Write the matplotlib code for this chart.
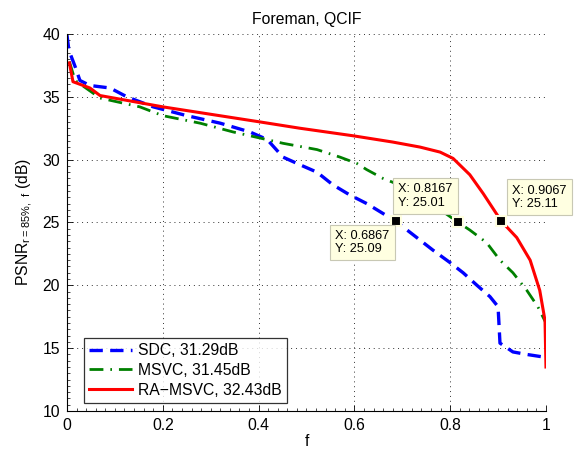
import matplotlib
matplotlib.use("Agg")
import matplotlib.pyplot as plt
from matplotlib.ticker import MultipleLocator, FuncFormatter

sdc_f = [0.0, 0.004, 0.017, 0.027, 0.048, 0.09, 0.125, 0.18, 0.25, 0.32, 0.382, 0.418,
         0.451, 0.486, 0.522, 0.555, 0.59, 0.626, 0.6867, 0.71, 0.764, 0.80, 0.827,
         0.856, 0.883, 0.90, 0.904, 0.931, 0.96, 0.994]
sdc_y = [39.9, 38.7, 37.4, 36.3, 35.9, 35.7, 35.0, 34.2, 33.5, 32.9, 32.2, 31.6,
         30.2, 29.6, 29.0, 28.0, 27.2, 26.5, 25.09, 24.4, 22.8, 21.8, 21.0,
         20.0, 19.1, 18.3, 15.4, 14.7, 14.5, 14.3]

msvc_f = [0.005, 0.017, 0.069, 0.152, 0.2, 0.278, 0.347, 0.382, 0.451, 0.522, 0.57,
          0.605, 0.626, 0.66, 0.68, 0.75, 0.8167, 0.841, 0.876, 0.904, 0.931, 0.96,
          0.983, 1.0]
msvc_y = [37.8, 36.3, 34.9, 34.2, 33.5, 32.9, 32.2, 31.9, 31.3, 30.8, 30.2,
          29.7, 29.2, 28.5, 28.2, 26.8, 25.01, 24.4, 23.4, 22.0, 21.0, 19.6,
          18.3, 17.0]

ra_f = [0.005, 0.0125, 0.048, 0.069, 0.2, 0.403, 0.486, 0.597, 0.68, 0.737, 0.779,
        0.806, 0.841, 0.869, 0.9067, 0.939, 0.967, 0.987, 0.998, 1.0]
ra_y = [37.7, 36.2, 35.7, 35.1, 34.2, 33.0, 32.5, 31.9, 31.4, 31.0, 30.6,
        30.1, 28.8, 27.3, 25.11, 23.8, 22.0, 19.6, 17.2, 13.5]

labels = ["SDC, 31.29dB", "MSVC, 31.45dB", "RA\u2212MSVC, 32.43dB"]
tips_x = [0.6867, 0.8167, 0.9067]
tips_y = [25.09, 25.01, 25.11]

FS = 11.3
plt.rcParams['font.family'] = ['Liberation Sans', 'DejaVu Sans']
fig = plt.figure(figsize=(5.75, 4.51), dpi=100)
ax = fig.add_axes([0.1165, 0.0887, 0.833, 0.836])

ax.plot(sdc_f, sdc_y, color='#0000ff', lw=2.4, dashes=(4, 2.2), label=labels[0])
ax.plot(msvc_f, msvc_y, color='#008000', lw=2.0, dashes=(5, 2.5, 0.6, 2.5), label=labels[1])
ax.plot(ra_f, ra_y, color='#ff0000', lw=2.2, ls='-', label=labels[2])

ax.set_xlim(0, 1)
ax.set_ylim(10, 40)
ax.xaxis.set_major_locator(MultipleLocator(0.2))
ax.yaxis.set_major_locator(MultipleLocator(5))
ax.xaxis.set_minor_locator(MultipleLocator(0.02))
ax.yaxis.set_minor_locator(MultipleLocator(0.5))
ax.xaxis.set_major_formatter(FuncFormatter(lambda v, p: '%g' % round(v, 2)))
ax.yaxis.set_major_formatter(FuncFormatter(lambda v, p: '%g' % round(v, 2)))
ax.tick_params(which='major', direction='in', length=4, width=0.6, labelsize=FS, pad=5)
ax.tick_params(which='minor', direction='in', length=2, width=0.5)
ax.grid(True, which='major', ls=(0, (1, 4)), color='#333333', lw=0.7)
ax.spines['top'].set_visible(False)
ax.spines['right'].set_visible(False)
ax.spines['left'].set_linewidth(0.8)
ax.spines['bottom'].set_linewidth(0.8)

ax.set_title('Foreman, QCIF', fontsize=FS, pad=7)
ax.set_xlabel('f', fontsize=FS, labelpad=1)
ax.set_ylabel(r'PSNR$_{\mathregular{r=85\%,\ f}}$ (dB)', fontsize=FS, labelpad=5)

leg = ax.legend(loc='lower left', bbox_to_anchor=(0.035, 0.021), fontsize=FS,
                frameon=True, fancybox=False, edgecolor='black', handlelength=2.7,
                borderpad=0.35, labelspacing=0.3, handletextpad=0.4, borderaxespad=0)
leg.get_frame().set_linewidth(0.9)

ax.plot(tips_x, tips_y, ls='none', marker='s', ms=7, mfc='black', mec='#ffffe0', mew=1.5, zorder=5)

box = dict(boxstyle='square,pad=0.4', fc='#ffffe1', ec='#c8c8b4', lw=0.8)
tfs = 9.2
ax.text(0.560, 24.4, 'X: 0.6867\nY: 25.09', fontsize=tfs, ha='left', va='top', bbox=box, zorder=6, linespacing=1.15)
ax.text(0.692, 26.1, 'X: 0.8167\nY: 25.01', fontsize=tfs, ha='left', va='bottom', bbox=box, zorder=6, linespacing=1.15)
ax.text(0.930, 26.0, 'X: 0.9067\nY: 25.11', fontsize=tfs, ha='left', va='bottom', bbox=box, zorder=6, linespacing=1.15)

fig.savefig('out.png', dpi=100)
